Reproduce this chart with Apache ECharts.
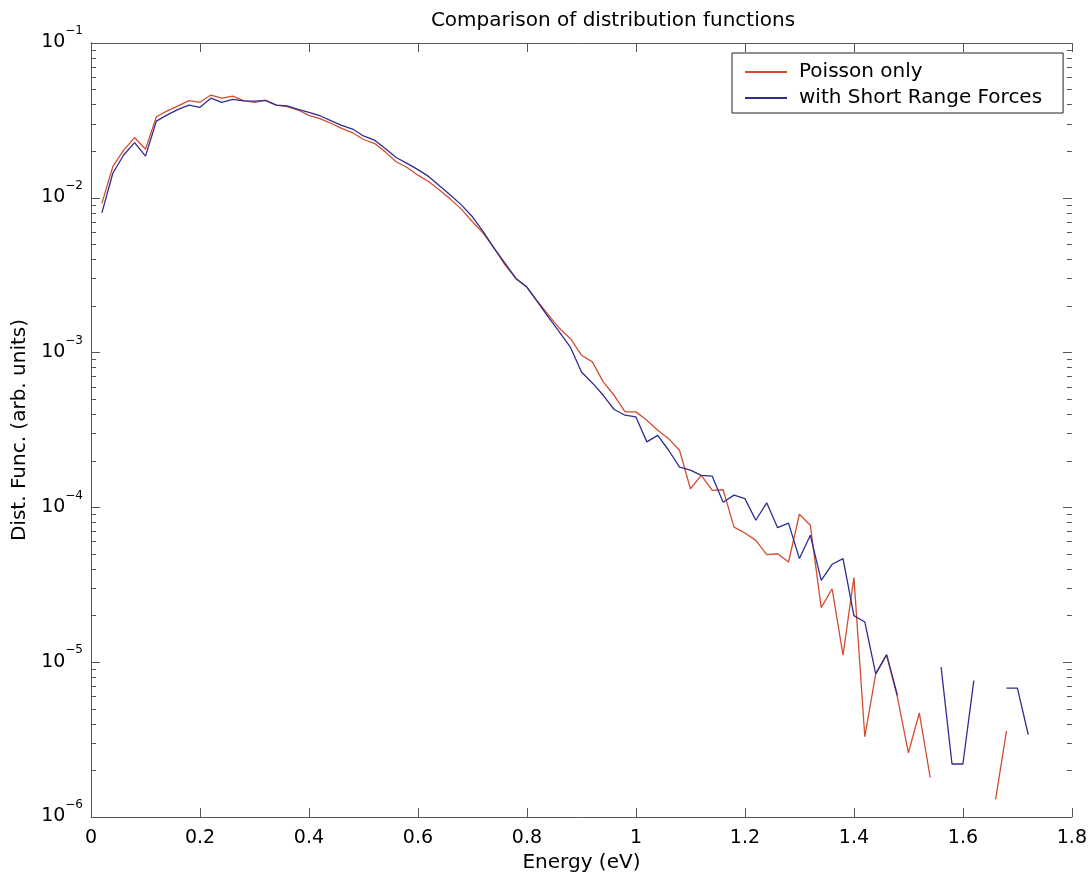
<!DOCTYPE html>
<html>
<head>
<meta charset="utf-8">
<script src="https://cdn.jsdelivr.net/npm/echarts@6/dist/echarts.min.js"></script>
<style>
html,body{margin:0;padding:0;background:#fff;}
#chart{width:1090px;height:880px;}
</style>
</head>
<body>
<div id="chart"></div>
<script>
const energies = [
  0.02,0.04,0.06,0.08,0.10,0.12,0.14,0.16,0.18,0.20,
  0.22,0.24,0.26,0.28,0.30,0.32,0.34,0.36,0.38,0.40,
  0.42,0.44,0.46,0.48,0.50,0.52,0.54,0.56,0.58,0.60,
  0.62,0.64,0.66,0.68,0.70,0.72,0.74,0.76,0.78,0.80,
  0.82,0.84,0.86,0.88,0.90,0.92,0.94,0.96,0.98,1.00,
  1.02,1.04,1.06,1.08,1.10,1.12,1.14,1.16,1.18,1.20,
  1.22,1.24,1.26,1.28,1.30,1.32,1.34,1.36,1.38,1.40,
  1.42,1.44,1.46,1.48,1.50,1.52,1.54,1.56,1.58,1.60,
  1.62,1.64,1.66,1.68,1.70,1.72
];
const poissonOnly = [
  0.0092,0.0159,0.0203,0.0245,0.0206,0.0334,0.0364,0.0392,0.0424,0.0414,
  0.0461,0.0440,0.0454,0.0425,0.0414,0.0428,0.0397,0.0388,0.0369,0.0341,
  0.0325,0.0303,0.0281,0.0263,0.0238,0.0225,0.0198,0.0171,0.0157,0.0140,
  0.0127,0.0112,0.00977,0.00842,0.00700,0.00589,0.00471,0.00367,0.00301,0.00265,
  0.00213,0.00174,0.00143,0.00123,0.000962,0.000871,0.000647,0.000530,0.000414,0.000414,
  0.000366,0.000315,0.000278,0.000234,0.000132,0.000161,0.000129,0.000130,0.0000746,0.0000683,
  0.0000612,0.0000495,0.0000502,0.0000444,0.0000903,0.0000766,0.0000225,0.0000298,0.0000111,0.0000352,
  0.0000033,0.0000084,0.0000111,0.0000059,0.0000026,0.0000047,0.0000018,null,null,null,
  null,null,0.0000013,0.0000036,null,null
];
const shortRange = [
  0.0080,0.0144,0.0189,0.0227,0.0186,0.0313,0.0343,0.0373,0.0397,0.0384,
  0.0440,0.0414,0.0433,0.0423,0.0421,0.0425,0.0397,0.0392,0.0373,0.0356,
  0.0339,0.0315,0.0294,0.0278,0.0251,0.0236,0.0208,0.0182,0.0167,0.0152,
  0.0137,0.0119,0.0104,0.00897,0.00754,0.00603,0.00471,0.00377,0.00300,0.00264,
  0.00211,0.00168,0.00135,0.00108,0.000750,0.000637,0.000530,0.000429,0.000394,0.000384,
  0.000265,0.000292,0.000234,0.000182,0.000174,0.000161,0.000159,0.000108,0.000120,0.000114,
  0.0000826,0.000107,0.0000740,0.0000792,0.0000467,0.0000661,0.0000338,0.0000429,0.0000467,0.0000200,
  0.0000182,0.0000084,0.0000112,0.0000061,null,null,null,0.0000093,0.0000022,0.0000022,
  0.0000076,null,null,0.0000068,0.0000068,0.0000034
];
const seriesNames = ['Poisson only', 'with Short Range Forces'];
const decadeExponents = [-6, -5, -4, -3, -2, -1];
const minorMantissas = [2, 3, 4, 5, 6, 7, 8, 9];

const minorTickLogs = [];
decadeExponents.slice(0, -1).forEach(e => {
  minorMantissas.forEach(m => minorTickLogs.push(Math.log10(m) + e));
});

const FONT = 'DejaVu Sans';
const AX = '#555';
const RED = '#d34d30';
const BLUE = '#2e2e92';

function pairs(vals) {
  return energies.map((e, i) => [e, vals[i] == null ? '-' : vals[i]]);
}

const chart = echarts.init(document.getElementById('chart'), null, {renderer: 'canvas'});

const xBase = {
  type: 'value', min: 0, max: 1.8, interval: 0.2,
  axisLine: {show: true, lineStyle: {color: AX, width: 1}},
  axisTick: {show: true, inside: true, length: 9, lineStyle: {color: AX}},
  splitLine: {show: false}
};
const yLogBase = {
  type: 'log', logBase: 10, min: 1e-6, max: 1e-1,
  axisLine: {show: true, lineStyle: {color: AX, width: 1}},
  axisTick: {show: false},
  splitLine: {show: false},
  minorTick: {show: false}, minorSplitLine: {show: false}
};
function tickAxis(pos, values, len) {
  return {
    type: 'value', min: -6, max: -1, position: pos,
    axisLine: {show: false},
    axisLabel: {show: false},
    axisTick: {show: true, inside: true, length: len, customValues: values, lineStyle: {color: AX}},
    splitLine: {show: false}
  };
}

chart.setOption({
  animation: false,
  backgroundColor: '#fff',
  textStyle: {fontFamily: FONT},
  title: {
    text: 'Comparison of distribution functions',
    left: 608, top: 6, textAlign: 'center',
    textStyle: {fontFamily: FONT, fontSize: 20, fontWeight: 'normal', color: '#000'}
  },
  legend: {
    data: seriesNames,
    orient: 'vertical',
    left: 732, top: 53,
    icon: 'rect',
    itemWidth: 42, itemHeight: 2, itemGap: 4,
    padding: [8, 21, 4, 13],
    borderColor: '#222', borderWidth: 1, borderRadius: 0,
    backgroundColor: '#fff',
    textStyle: {fontFamily: FONT, fontSize: 20, lineHeight: 22, color: '#000', padding: [0, 0, 0, 7]}
  },
  grid: {left: 91, right: 17, top: 43, bottom: 63, containLabel: false},
  xAxis: [
    Object.assign({}, xBase, {
      position: 'bottom',
      name: 'Energy (eV)', nameLocation: 'middle', nameGap: 31,
      nameTextStyle: {fontFamily: FONT, fontSize: 20, color: '#000'},
      axisLabel: {show: true, margin: 12, fontFamily: FONT, fontSize: 19, color: '#000'}
    }),
    Object.assign({}, xBase, {position: 'top', axisLabel: {show: false}})
  ],
  yAxis: [
    Object.assign({}, yLogBase, {
      position: 'left',
      name: 'Dist. Func. (arb. units)', nameLocation: 'middle', nameGap: 59,
      nameTextStyle: {fontFamily: FONT, fontSize: 20, color: '#000'},
      axisLabel: {
        show: true, margin: 8, padding: [0, 0, 9, 0],
        formatter: function (v) {
          const e = Math.round(Math.log10(v));
          return '{b|10}{s|\u2212' + Math.abs(e) + '}';
        },
        rich: {
          b: {fontFamily: FONT, fontSize: 19, color: '#000', verticalAlign: 'bottom', lineHeight: 19},
          s: {fontFamily: FONT, fontSize: 12, color: '#000', verticalAlign: 'top', padding: [0, 0, 15, 0]}
        }
      }
    }),
    Object.assign({}, yLogBase, {position: 'right', axisLabel: {show: false}}),
    tickAxis('left', minorTickLogs, 5),
    tickAxis('right', minorTickLogs, 5),
    tickAxis('left', decadeExponents, 9),
    tickAxis('right', decadeExponents, 9)
  ],
  series: [
    {
      name: seriesNames[0], type: 'line', xAxisIndex: 0, yAxisIndex: 0,
      data: pairs(poissonOnly), symbol: 'none', showSymbol: false,
      connectNulls: false, silent: true,
      lineStyle: {color: RED, width: 1.3}, itemStyle: {color: RED}
    },
    {
      name: seriesNames[1], type: 'line', xAxisIndex: 0, yAxisIndex: 0,
      data: pairs(shortRange), symbol: 'none', showSymbol: false,
      connectNulls: false, silent: true,
      lineStyle: {color: BLUE, width: 1.3}, itemStyle: {color: BLUE}
    }
  ]
});
</script>
</body>
</html>
